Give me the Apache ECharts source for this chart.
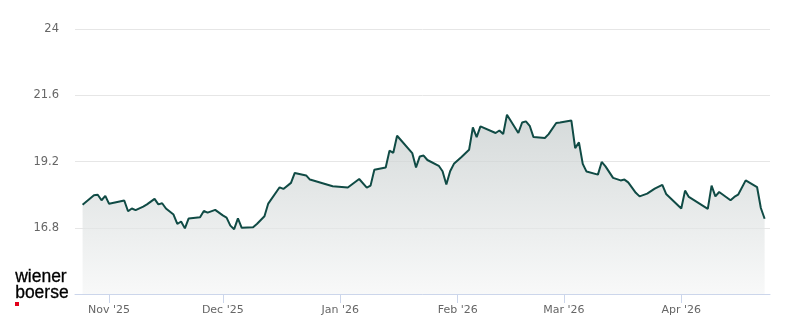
<!DOCTYPE html>
<html><head><meta charset="utf-8">
<script src="https://cdn.jsdelivr.net/npm/echarts@6/dist/echarts.min.js"></script>
<style>html,body{margin:0;padding:0;background:#fff}#c{width:800px;height:324px}</style>
</head><body><div id="c"></div>
<script>
const dates = [
'2025-10-25','2025-10-28','2025-10-29','2025-10-30','2025-10-31','2025-11-01','2025-11-05','2025-11-06','2025-11-07','2025-11-08',
'2025-11-10','2025-11-11','2025-11-13','2025-11-14','2025-11-15','2025-11-16','2025-11-18','2025-11-19','2025-11-20','2025-11-21',
'2025-11-22','2025-11-25','2025-11-26','2025-11-27','2025-11-29','2025-12-01','2025-12-02','2025-12-03','2025-12-04','2025-12-05',
'2025-12-06','2025-12-09','2025-12-10','2025-12-12','2025-12-13','2025-12-16','2025-12-17','2025-12-19','2025-12-20','2025-12-23',
'2025-12-24','2025-12-30','2026-01-03','2026-01-06','2026-01-08','2026-01-09','2026-01-10','2026-01-13','2026-01-14','2026-01-15',
'2026-01-16','2026-01-20','2026-01-21','2026-01-22','2026-01-23','2026-01-24','2026-01-27','2026-01-28','2026-01-29','2026-01-30',
'2026-01-31','2026-02-02','2026-02-04','2026-02-05','2026-02-06','2026-02-07','2026-02-11','2026-02-12','2026-02-13','2026-02-14',
'2026-02-17','2026-02-18','2026-02-19','2026-02-20','2026-02-21','2026-02-24','2026-02-25','2026-02-27','2026-02-28','2026-03-03',
'2026-03-04','2026-03-05','2026-03-06','2026-03-07','2026-03-10','2026-03-11','2026-03-12','2026-03-14','2026-03-16','2026-03-17',
'2026-03-18','2026-03-20','2026-03-21','2026-03-23','2026-03-25','2026-03-27','2026-03-28','2026-04-01','2026-04-02','2026-04-03',
'2026-04-08','2026-04-09','2026-04-10','2026-04-11','2026-04-14','2026-04-15','2026-04-16','2026-04-18','2026-04-21','2026-04-22',
'2026-04-23'
];
const prices = [
17.64,17.98,18.00,17.80,17.96,17.67,17.79,17.40,17.50,17.44,
17.57,17.65,17.85,17.65,17.69,17.50,17.28,16.94,17.03,16.78,
17.14,17.18,17.41,17.35,17.45,17.25,17.17,16.88,16.75,17.14,
16.80,16.82,16.94,17.22,17.68,18.27,18.21,18.43,18.79,18.70,
18.55,18.31,18.26,18.57,18.26,18.33,18.91,18.99,19.60,19.52,
20.14,19.51,18.99,19.39,19.42,19.26,19.05,18.85,18.37,18.85,
19.12,19.37,19.63,20.44,20.09,20.48,20.24,20.33,20.20,20.90,
20.24,20.62,20.66,20.50,20.09,20.06,20.20,20.60,20.62,20.69,
19.69,19.90,19.12,18.84,18.73,19.19,19.03,18.61,18.52,18.55,
18.45,18.07,17.94,18.04,18.22,18.36,18.03,17.50,18.15,17.92,
17.49,18.33,17.94,18.10,17.80,17.92,18.00,18.52,18.28,17.52,
17.13
];
const monthTicks = ['2025-11-01','2025-12-01','2026-01-01','2026-02-01','2026-03-01','2026-04-01'];
const monthLabels = ["Nov '25","Dec '25","Jan '26","Feb '26","Mar '26","Apr '26"];
const xStart = '2025-10-23', xEnd = '2026-04-24';
const yMin = 14.4, yMax = 24, yStep = 2.4;

function parseLocal(s){const p=s.split('-').map(Number);return Date.UTC(p[0],p[1]-1,p[2]);}
const tickTs = monthTicks.map(parseLocal);
const labelByTs = {};
tickTs.forEach((t,i)=>{labelByTs[t]=monthLabels[i];});

const chart = echarts.init(document.getElementById('c'), null, {renderer:'canvas'});
chart.setOption({
  animation:false,
  backgroundColor:'#ffffff',
  grid:{left:75,right:30,top:29.3,bottom:30,containLabel:false},
  xAxis:{
    type:'value',
    min:parseLocal(xStart),
    max:parseLocal(xEnd)+10*3600*1000,
    axisLine:{show:true,onZero:false,lineStyle:{color:'#ccd6eb',width:1}},
    axisTick:{show:true,customValues:tickTs,length:9,lineStyle:{color:'#ccd6eb',width:1}},
    axisLabel:{customValues:tickTs,formatter:v=>labelByTs[v]||'',color:'#666666',fontSize:11,fontFamily:'DejaVu Sans',margin:11},
    splitLine:{show:false}
  },
  yAxis:{
    type:'value',min:yMin,max:yMax,interval:yStep,
    axisLine:{show:false},axisTick:{show:false},
    axisLabel:{showMinLabel:false,color:'#666666',fontSize:11.5,fontFamily:'DejaVu Sans',margin:16,
      formatter:v=>String(+v.toFixed(1))},
    splitLine:{show:true,lineStyle:{color:'#e6e6e6',width:1}}
  },
  series:[{
    type:'line',
    data:dates.map((d,i)=>[parseLocal(d),prices[i]]),
    showSymbol:false,
    lineStyle:{color:'#104b45',width:2},
    itemStyle:{color:'#104b45'},
    areaStyle:{color:new echarts.graphic.LinearGradient(0,0,0,1,[{offset:0,color:'#c3caca'},{offset:1,color:'#f5f6f6'}])}
  }],
  graphic:[
    {type:'text',left:15,top:268,style:{text:'wiener',font:'17.5px "Liberation Sans"',fill:'#000000',stroke:'#000000',lineWidth:0.3}},
    {type:'text',left:15,top:284,style:{text:'boerse',font:'17.5px "Liberation Sans"',fill:'#000000',stroke:'#000000',lineWidth:0.3}},
    {type:'rect',left:15,top:302,shape:{width:4,height:4},style:{fill:'#e2001a'}}
  ]
});
</script></body></html>
